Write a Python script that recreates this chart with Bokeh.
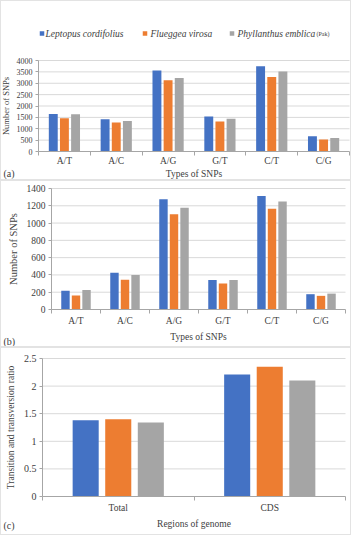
from bokeh.plotting import figure
from bokeh.models import ColumnDataSource, Range1d, FixedTicker, Label
from bokeh.transform import dodge
from bokeh.layouts import column
from bokeh.embed import file_html
from bokeh.resources import INLINE

series_names = ["Leptopus cordifolius", "Flueggea virosa", "Phyllanthus emblica"]
series_suffix = "(Pak)"
colors = ["#4472C4", "#ED7D31", "#A5A5A5"]

snp_types = ["A/T", "A/C", "A/G", "G/T", "C/T", "C/G"]
a_lep = [1650, 1420, 3560, 1535, 3745, 665]
a_flu = [1460, 1270, 3135, 1320, 3270, 530]
a_phy = [1635, 1345, 3235, 1445, 3515, 590]

b_lep = [218, 424, 1275, 340, 1312, 177]
b_flu = [163, 343, 1103, 301, 1165, 158]
b_phy = [227, 398, 1178, 340, 1250, 184]

regions = ["Total", "CDS"]
c_lep = [1.38, 2.21]
c_flu = [1.40, 2.35]
c_phy = [1.34, 2.10]

a_yticks = [0, 500, 1000, 1500, 2000, 2500, 3000, 3500, 4000]
b_yticks = [0, 200, 400, 600, 800, 1000, 1200, 1400]
c_yticks = [0, 0.5, 1, 1.5, 2, 2.5]
c_ytick_labels = ["0", "0.5", "1", "1.5", "2", "2.5"]

FONT = "Liberation Serif"
TXT = "#404040"
GRID = "#d9d9d9"
AXIS = "#a6a6a6"

FIG_LEFT, FIG_RIGHT = 8, 359


class Panel:
    """Figure whose frame fills the whole canvas; axes drawn at fixed data locations."""

    def __init__(self, cats, series, yticks, fig_top, fig_bottom, ax_x, end_x, y0_px, ymax_px,
                 ylabel, xlabel, ytick_size, ylab_size, xtick_size, xlab_size,
                 ylab_standoff, xtick_standoff, xlab_standoff, ytick_overrides=None):
        n = len(cats)
        ymax = yticks[-1]
        self.n, self.ymax = n, ymax
        self.ax_x, self.end_x, self.y0_px, self.ymax_px = ax_x, end_x, y0_px, ymax_px
        width = FIG_RIGHT - FIG_LEFT
        height = fig_bottom - fig_top
        p = figure(width=width, height=height, output_backend="svg", toolbar_location=None,
                   x_range=Range1d(self.cx(FIG_LEFT), self.cx(FIG_RIGHT)),
                   y_range=Range1d(self.cy(fig_bottom), self.cy(fig_top)),
                   min_border=0, background_fill_color="white", border_fill_color="white",
                   styles={"border": "1px solid #e3e3e3"})
        p.outline_line_color = None
        p.xgrid.visible = False
        p.ygrid.visible = False

        # horizontal gridlines across the plotting area only
        p.segment(x0=0, x1=n, y0=yticks[1:], y1=yticks[1:], line_color=GRID, line_width=1)

        src = ColumnDataSource(dict(x=[i + 0.5 for i in range(n)],
                                    s1=series[0], s2=series[1], s3=series[2]))
        offs = [-0.215, 0.0, 0.215]
        for col, off, c in zip(["s1", "s2", "s3"], offs, colors):
            p.vbar(x=dodge("x", off, range=p.x_range), top=col, width=0.172,
                   source=src, fill_color=c, line_color=None)

        xa = p.xaxis[0]
        xa.fixed_location = 0
        xa.bounds = (0, n)
        xa.ticker = FixedTicker(ticks=[i + 0.5 for i in range(n)], minor_ticks=list(range(n + 1)))
        xa.major_label_overrides = {i + 0.5: cats[i] for i in range(n)}
        xa.major_tick_line_color = None
        xa.major_tick_in = 0
        xa.major_tick_out = 4
        xa.minor_tick_line_color = AXIS
        xa.minor_tick_in = 0
        xa.minor_tick_out = 4
        xa.axis_line_color = AXIS
        xa.major_label_text_font = FONT
        xa.major_label_text_font_size = f"{xtick_size}px"
        xa.major_label_text_color = TXT
        xa.major_label_standoff = xtick_standoff
        xa.axis_label = xlabel
        xa.axis_label_text_font = FONT
        xa.axis_label_text_font_style = "normal"
        xa.axis_label_text_font_size = f"{xlab_size}px"
        xa.axis_label_text_color = TXT
        xa.axis_label_standoff = xlab_standoff

        ya = p.yaxis[0]
        ya.fixed_location = 0
        ya.bounds = (0, ymax)
        ya.ticker = FixedTicker(ticks=yticks)
        if ytick_overrides:
            ya.major_label_overrides = ytick_overrides
        ya.minor_tick_line_color = None
        ya.major_tick_line_color = AXIS
        ya.major_tick_in = 0
        ya.major_tick_out = 3
        ya.axis_line_color = AXIS
        ya.major_label_text_font = FONT
        ya.major_label_text_font_size = f"{ytick_size}px"
        ya.major_label_text_color = TXT
        ya.major_label_standoff = 3
        ya.axis_label = ylabel
        ya.axis_label_text_font = FONT
        ya.axis_label_text_font_style = "normal"
        ya.axis_label_text_font_size = f"{ylab_size}px"
        ya.axis_label_text_color = TXT
        ya.axis_label_standoff = ylab_standoff
        self.p = p

    def cx(self, px):
        return (px - self.ax_x) * self.n / (self.end_x - self.ax_x)

    def cy(self, py):
        return (self.y0_px - py) * self.ymax / (self.y0_px - self.ymax_px)

    def text(self, px, py, txt, size="10px", style="normal", color=TXT, align="left", font=FONT):
        self.p.add_layout(Label(x=self.cx(px), y=self.cy(py), text=txt, text_font=font,
                                text_font_size=size, text_font_style=style,
                                text_color=color, text_align=align, text_baseline="middle"))


A = Panel(snp_types, [a_lep, a_flu, a_phy], a_yticks, 8, 188, 45, 356, 158, 67,
          "Number of SNPs", "Types of SNPs", 8, 8.5, 9.5, 9.5, 3, 0, 0)
B = Panel(snp_types, [b_lep, b_flu, b_phy], b_yticks, 188, 355, 58, 352, 316, 195,
          "Number of SNPs", "Types of SNPs", 9.5, 10.5, 9.5, 9.5, 5, 2, 3)
C = Panel(regions, [c_lep, c_flu, c_phy], c_yticks, 355, 543, 49, 352, 503, 365,
          "Transition and transversion ratio", "Regions of genome", 10, 9.5, 9.5, 9.5, 5, 2, 3,
          ytick_overrides={t: s for t, s in zip(c_yticks, c_ytick_labels)})

A.text(10, 180, "(a)")
B.text(10, 348, "(b)")
C.text(10, 532, "(c)")

# legend of panel (a)
leg_y = 40
sq_px = [48.5, 151.5, 238.5]
tx_px = [52, 157, 244]
A.p.scatter(x=[A.cx(v) for v in sq_px], y=[A.cy(leg_y)] * 3, marker="square", size=4.5,
            fill_color=colors, line_color=None)
for tx, name in zip(tx_px, series_names):
    A.text(tx, leg_y, name, size="9.5px", style="italic")
A.text(323, leg_y + 0.5, series_suffix, size="6px")

layout = column(A.p, B.p, C.p, spacing=0)
open("out.html", "w").write(file_html(layout, INLINE))
